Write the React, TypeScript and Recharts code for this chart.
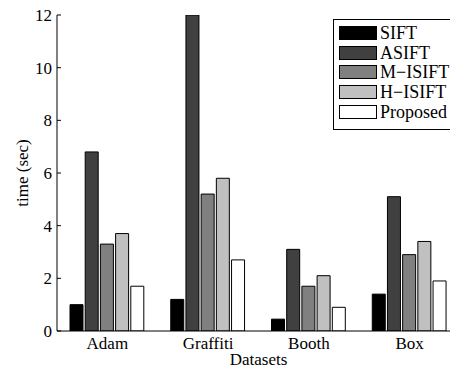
import React from 'react';
import { BarChart, Bar, XAxis, YAxis, Legend } from 'recharts';

const categories = ['Adam', 'Graffiti', 'Booth', 'Box'];
const sift = [1.0, 1.2, 0.45, 1.4];
const asift = [6.8, 12, 3.1, 5.1];
const misift = [3.3, 5.2, 1.7, 2.9];
const hisift = [3.7, 5.8, 2.1, 3.4];
const proposed = [1.7, 2.7, 0.9, 1.9];
const yTicks = [0, 2, 4, 6, 8, 10, 12];

const seriesNames = ['SIFT', 'ASIFT', 'M\u2212ISIFT', 'H\u2212ISIFT', 'Proposed'];
const seriesColors = ['#000000', '#404040', '#808080', '#c0c0c0', '#ffffff'];
const seriesValues = [sift, asift, misift, hisift, proposed];

const data = categories.map((name, i) => {
  const row: Record<string, string | number> = { name };
  seriesNames.forEach((s, j) => {
    row[s] = seriesValues[j][i];
  });
  return row;
});

const FONT = 'Liberation Serif';

const LegendBox = () => (
  <div
    style={{
      border: '1px solid #000',
      background: '#fff',
      width: 150,
      height: 111,
      boxSizing: 'border-box',
      paddingTop: 3,
      fontFamily: FONT,
      fontSize: 18,
      color: '#000',
    }}
  >
    {seriesNames.map((n, i) => (
      <div key={n} style={{ display: 'flex', alignItems: 'center', height: 19.8, fontFamily: FONT }}>
        <div
          style={{
            width: 38,
            height: 14,
            boxSizing: 'border-box',
            border: '1px solid #000',
            background: seriesColors[i],
            marginLeft: 5,
            marginRight: 3,
            flex: 'none',
          }}
        />
        <span style={{ lineHeight: '18px', fontFamily: FONT, whiteSpace: 'nowrap' }}>{n}</span>
      </div>
    ))}
  </div>
);

export default function App() {
  return (
    <div
      style={{
        position: 'absolute',
        left: 0,
        top: 0,
        width: 450,
        height: 367,
        overflow: 'hidden',
        background: '#fff',
        fontFamily: FONT,
      }}
    >
      <BarChart
        width={470}
        height={367}
        data={data}
        margin={{ top: 15, right: 0, left: 0, bottom: 0 }}
        barCategoryGap={13}
        barGap={2.2}
        style={{ fontFamily: FONT }}
      >
        <XAxis
          dataKey="name"
          xAxisId={0}
          height={36}
          axisLine={{ stroke: '#000', strokeWidth: 1 }}
          tickLine={false}
          tickSize={-4}
          tickMargin={10}
          tick={{ fill: '#000', fontSize: 17, fontFamily: FONT }}
          label={({ viewBox }: any) => (
            <text
              x={viewBox.x + viewBox.width / 2}
              y={viewBox.y + viewBox.height - 2}
              textAnchor="middle"
              fontSize={17}
              fontFamily={FONT}
              fill="#000"
            >
              Datasets
            </text>
          )}
        />
        <XAxis
          dataKey="name"
          xAxisId="top"
          orientation="top"
          height={0}
          axisLine={{ stroke: '#000', strokeWidth: 1 }}
          tickLine={{ stroke: '#000' }}
          tickSize={-4}
          tick={() => <g />}
        />
        <YAxis
          yAxisId={0}
          width={57}
          domain={[0, 12]}
          ticks={yTicks}
          allowDataOverflow
          axisLine={{ stroke: '#000', strokeWidth: 1 }}
          tickLine={{ stroke: '#000' }}
          tickSize={-4}
          tickMargin={9}
          tick={{ fill: '#000', fontSize: 17, fontFamily: FONT }}
          label={({ viewBox }: any) => {
            const cx = viewBox.x + 22;
            const cy = viewBox.y + viewBox.height / 2;
            return (
              <text
                x={cx}
                y={cy}
                transform={`rotate(-90 ${cx} ${cy})`}
                textAnchor="middle"
                dominantBaseline="central"
                fontSize={17}
                fontFamily={FONT}
                fill="#000"
              >
                time (sec)
              </text>
            );
          }}
        />
        <YAxis
          yAxisId="right"
          orientation="right"
          width={10}
          domain={[0, 12]}
          ticks={yTicks}
          axisLine={{ stroke: '#000', strokeWidth: 1 }}
          tickLine={{ stroke: '#000' }}
          tickSize={-4}
          tick={() => <g />}
        />
        <Legend
          layout="horizontal"
          verticalAlign="middle"
          align="center"
          content={() => <LegendBox />}
          wrapperStyle={{ position: 'absolute', left: 333, top: 19, width: 150, height: 111 }}
        />
        {seriesNames.map((n, i) => (
          <Bar
            key={n}
            dataKey={n}
            fill={seriesColors[i]}
            stroke="#000"
            strokeWidth={1}
            isAnimationActive={false}
          />
        ))}
      </BarChart>
    </div>
  );
}
